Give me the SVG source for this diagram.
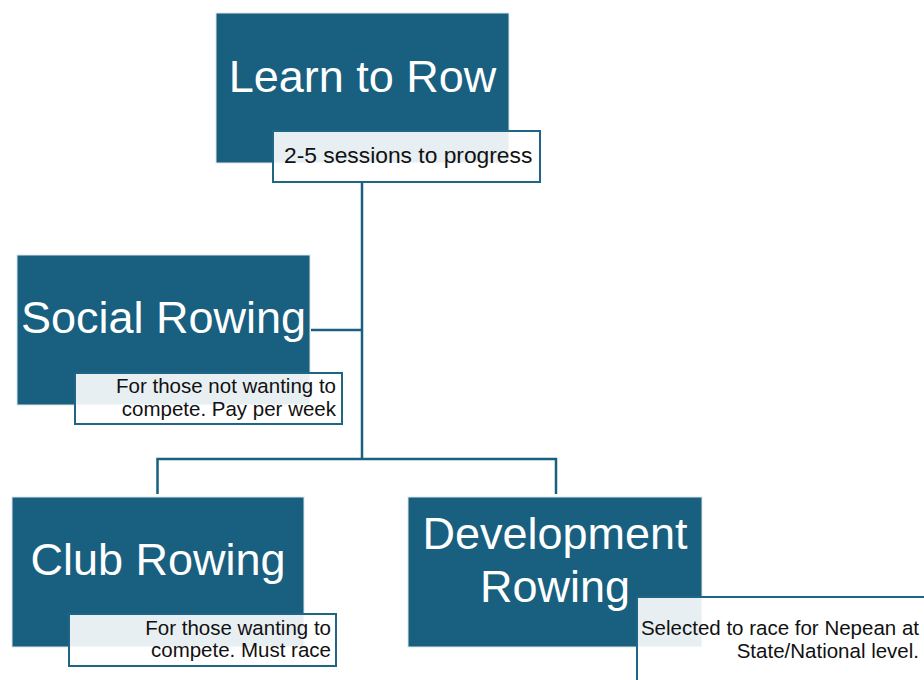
<svg xmlns="http://www.w3.org/2000/svg" width="924" height="680" viewBox="0 0 924 680">
<style>
.box{fill:#185f80;stroke:#dbe6ec;stroke-width:1}
.lbl{fill:#ffffff;fill-opacity:0.9;stroke:#1f6585;stroke-width:2}
.title{font-family:"Liberation Sans",Arial,sans-serif;font-size:45px;fill:#ffffff;text-anchor:middle}
.sub{font-family:"Liberation Sans",Arial,sans-serif;font-size:20.5px;fill:#111111}
.conn{fill:none;stroke:#185f80;stroke-width:2.5}
</style>
<rect width="924" height="680" fill="#ffffff"/>
<g id="connectors">
<path class="conn" d="M362 182 V459"/>
<path class="conn" d="M311 330 H362"/>
<path class="conn" d="M157.5 494 V459 H556 V494"/>
</g>
<g id="learn">
<rect class="box" x="216" y="13" width="293" height="150"/>
<text class="title" x="362.5" y="92">Learn to Row</text>
<rect class="lbl" x="273" y="131" width="267" height="51"/>
<text class="sub" x="284" y="163" style="font-size:22.8px">2-5 sessions to progress</text>
</g>
<g id="social">
<rect class="box" x="17" y="255" width="293" height="150"/>
<text class="title" x="163.5" y="333">Social Rowing</text>
<rect class="lbl" x="75" y="373" width="267" height="51"/>
<text class="sub" text-anchor="end" x="336" y="393">For those not wanting to</text>
<text class="sub" text-anchor="end" x="336" y="416">compete. Pay per week</text>
</g>
<g id="club">
<rect class="box" x="12" y="497" width="292" height="150"/>
<text class="title" x="158" y="575">Club Rowing</text>
<rect class="lbl" x="69" y="614" width="267" height="52"/>
<text class="sub" text-anchor="end" x="331" y="635">For those wanting to</text>
<text class="sub" text-anchor="end" x="331" y="657">compete. Must race</text>
</g>
<g id="development">
<rect class="box" x="408" y="497" width="294" height="150"/>
<text class="title" x="555" y="549">Development</text>
<text class="title" x="555" y="602">Rowing</text>
<rect class="lbl" x="637" y="597" width="300" height="100"/>
<text class="sub" text-anchor="end" x="919" y="635">Selected to race for Nepean at</text>
<text class="sub" text-anchor="end" x="919" y="658">State/National level.</text>
</g>
</svg>
